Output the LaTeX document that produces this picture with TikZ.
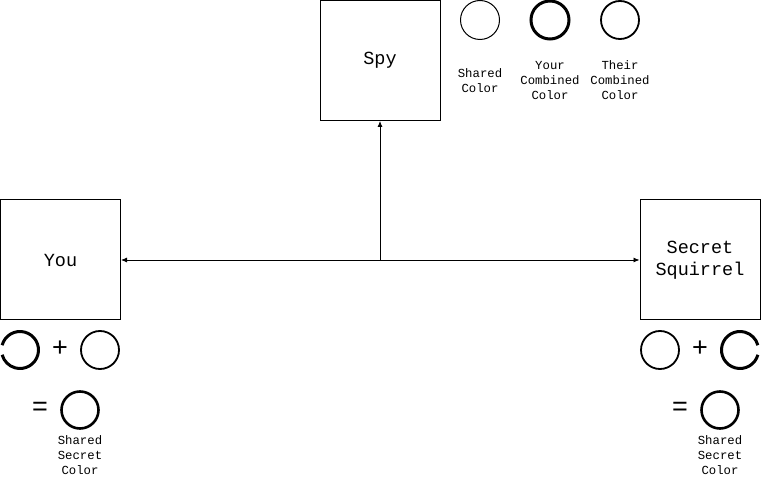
\documentclass[tikz,border=0pt]{standalone}
\usepackage{fontspec}
\newfontfamily\monofnt{Liberation Mono}
\newfontfamily\symfnt{Liberation Sans}
\usetikzlibrary{arrows.meta}
\tikzset{
  party/.style={draw, line width=1pt, minimum width=120pt, minimum height=120pt, inner sep=0pt, align=center,
    font=\monofnt\fontsize{18.5}{22}\selectfont},
  small/.style={align=center, inner sep=0pt, font=\monofnt\fontsize{12.3}{15}\selectfont},
  opsign/.style={inner sep=0pt, font=\symfnt\fontsize{27}{27}\selectfont},
  conn/.style={line width=0.8pt, arrows={-Latex[length=6pt,width=5pt]}},
  thinring/.style={line width=1pt},
  midring/.style={line width=1.8pt},
  thickring/.style={line width=3pt}
}
\begin{document}
\begin{tikzpicture}[x=1pt,y=-1pt]
\useasboundingbox (0,0) rectangle (761,481);
% parties
\node[party] (spy) at (380,60.5) {Spy};
\node[party] (you) at (60.5,260) {You};
\node[party] (sq) at (700,260) {Secret\\Squirrel};
% connectors
\coordinate (j) at (380,260);
\draw[conn, arrows={Latex[length=6pt,width=5pt]-Latex[length=6pt,width=5pt]}] (you.east) -- (sq.west);
\draw[conn] (j) -- (spy.south);
% top legend
\draw[thinring] (480,20) circle (19.5);
\draw[thickring] (550,20) circle (19);
\draw[midring] (620,20) circle (19);
\node[small] (l1) at (480,80.5) {Shared\\Color};
\node[small] (l2) at (550,80.5) {Your\\Combined\\Color};
\node[small] (l3) at (620,80.5) {Their\\Combined\\Color};
% bottom left
\draw[thickring] (20,350) ++(195:18.5) arc (195:525:18.5);
\node[opsign] (p1) at (60,349) {+};
\draw[midring] (100,350) circle (19);
\node[opsign] (e1) at (40,409) {=};
\draw[line width=2.6pt] (80,410) circle (18.5);
\node[small] (s1) at (80,455.5) {Shared\\Secret\\Color};
% bottom right
\draw[midring] (660,350) circle (19);
\node[opsign] (p2) at (700,349) {+};
\draw[thickring] (740,350) ++(15:18.5) arc (15:345:18.5);
\node[opsign] (e2) at (680,409) {=};
\draw[line width=2.6pt] (720,410) circle (18.5);
\node[small] (s2) at (720,455.5) {Shared\\Secret\\Color};
\end{tikzpicture}
\end{document}
